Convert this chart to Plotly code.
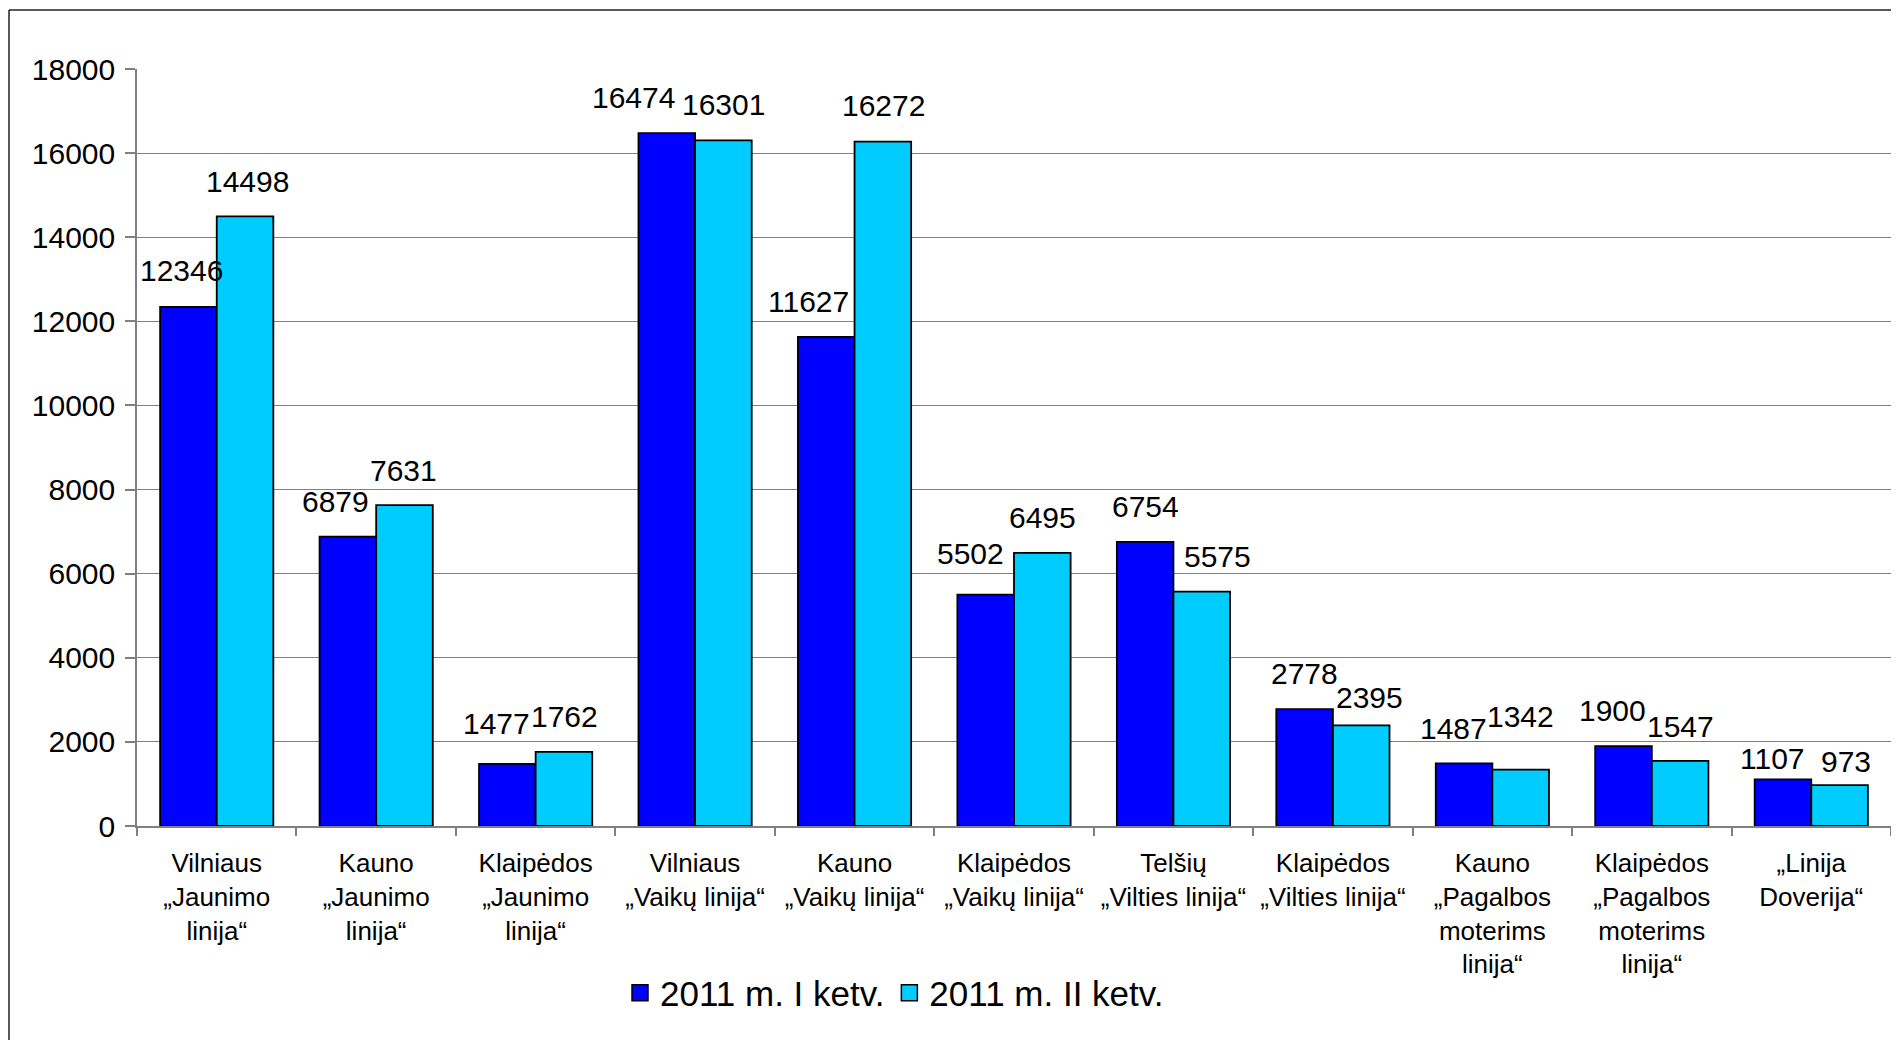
import plotly.graph_objects as go

categories = [
    "Vilniaus<br>„Jaunimo<br>linija“",
    "Kauno<br>„Jaunimo<br>linija“",
    "Klaipėdos<br>„Jaunimo<br>linija“",
    "Vilniaus<br>„Vaikų linija“",
    "Kauno<br>„Vaikų linija“",
    "Klaipėdos<br>„Vaikų linija“",
    "Telšių<br>„Vilties linija“",
    "Klaipėdos<br>„Vilties linija“",
    "Kauno<br>„Pagalbos<br>moterims<br>linija“",
    "Klaipėdos<br>„Pagalbos<br>moterims<br>linija“",
    "„Linija<br>Doverija“",
]
q1_values = [12346, 6879, 1477, 16474, 11627, 5502, 6754, 2778, 1487, 1900, 1107]
q2_values = [14498, 7631, 1762, 16301, 16272, 6495, 5575, 2395, 1342, 1547, 973]
series_names = ["2011 m. I ketv.", "2011 m. II ketv."]
y_ticks = [0, 2000, 4000, 6000, 8000, 10000, 12000, 14000, 16000, 18000]
y_tick_labels = [str(v) for v in y_ticks]

# label placement nudges (pixels) as in the original layout
q1_dx = [-7, -12, -11, -33, -18, -15, 0, 0, -11, -11, -10]
q1_dy = [36, 35, 40, 36, 36, 41, 35, 36, 35, 36, 21]
q2_dx = [2, -1, 1, 0, 1, 0, 16, 8, 0, 0, 6]
q2_dy = [35, 35, 35, 36, 36, 35, 35, 28, 53, 34, 24]

C1 = "#0000FF"
C2 = "#00CCFF"
FONT = "Arial, Liberation Sans, sans-serif"

# page has an 8px body margin; figure sized to fit inside the window
W, H = 1883, 1032
L, R, T, B = 129, 0, 61, 214
plot_w = W - L - R
plot_h = H - T - B
bargap = 0.29
bar_px = plot_w / len(categories) * (1 - bargap) / 2

fig = go.Figure()
fig.add_trace(go.Bar(x=categories, y=q1_values, name=series_names[0],
                     marker=dict(color=C1, line=dict(color="black", width=1.8)),
                     showlegend=False))
fig.add_trace(go.Bar(x=categories, y=q2_values, name=series_names[1],
                     marker=dict(color=C2, line=dict(color="black", width=1.8)),
                     showlegend=False))
# legend entries
for nm, c in zip(series_names, [C1, C2]):
    fig.add_trace(go.Scatter(x=[None], y=[None], mode="markers", name=nm,
                             marker=dict(symbol="square", size=16, color=c,
                                         line=dict(color="black", width=1.5))))

ann = []
for i, cat in enumerate(categories):
    for vals, dx, dy, sgn in [(q1_values, q1_dx, q1_dy, -1), (q2_values, q2_dx, q2_dy, 1)]:
        ann.append(dict(x=cat, y=vals[i], xref="x", yref="y", text=str(vals[i]),
                        showarrow=False, xanchor="center", yanchor="middle",
                        xshift=sgn * bar_px / 2 + dx[i], yshift=dy[i],
                        font=dict(family=FONT, size=30, color="black")))

frame_x = (1 - L) / plot_w
frame_top = (H - B - 2) / plot_h
frame_bottom = -B / plot_h
fig.update_layout(
    width=W, height=H,
    margin=dict(l=L, r=R, t=T, b=B),
    paper_bgcolor="white", plot_bgcolor="white",
    barmode="group", bargap=bargap, bargroupgap=0,
    font=dict(family=FONT, color="black"),
    annotations=ann,
    legend=dict(orientation="h", x=(612 - L) / plot_w, xanchor="left",
                y=-(985 - 818) / plot_h, yanchor="middle",
                font=dict(family=FONT, size=35, color="black"),
                bgcolor="rgba(0,0,0,0)", itemsizing="trace"),
    shapes=[
        dict(type="line", xref="paper", yref="paper", x0=frame_x, x1=frame_x,
             y0=frame_bottom, y1=frame_top, line=dict(color="#222222", width=1.5), layer="below"),
        dict(type="line", xref="paper", yref="paper", x0=frame_x, x1=1.0,
             y0=frame_top, y1=frame_top, line=dict(color="#222222", width=1.5), layer="below"),
    ],
)
fig.update_xaxes(
    type="category", showgrid=False, showline=True, linecolor="#808080", linewidth=1.5,
    ticks="outside", tickson="boundaries", ticklen=8, tickcolor="#808080", tickwidth=1.5,
    tickfont=dict(family=FONT, size=26, color="black"), ticklabelstandoff=13,
)
fig.update_yaxes(
    range=[0, 18000], tickvals=y_ticks, ticktext=y_tick_labels,
    showgrid=True, gridcolor="#808080", gridwidth=1.3,
    showline=True, linecolor="#808080", linewidth=1.5,
    ticks="outside", ticklen=10, tickcolor="#808080", tickwidth=1.5,
    tickfont=dict(family=FONT, size=30, color="black"), ticklabelstandoff=4,
    zeroline=False,
)
fig.write_html("out.html")
